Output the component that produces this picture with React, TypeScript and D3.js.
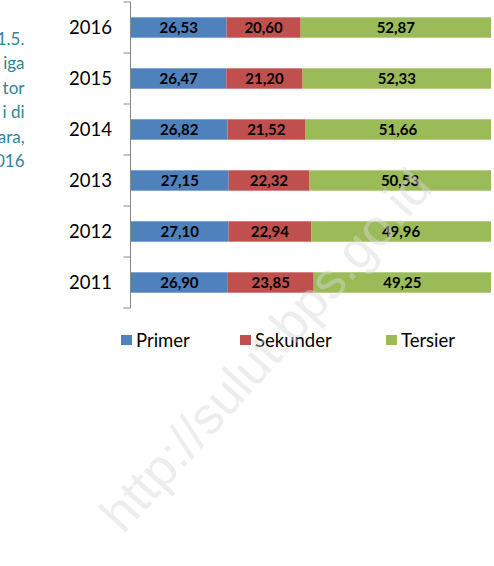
import React from 'react';
import * as d3 from 'd3';

const years = ['2011', '2012', '2013', '2014', '2015', '2016'];
const primer = [26.9, 27.1, 27.15, 26.82, 26.47, 26.53];
const sekunder = [23.85, 22.94, 22.32, 21.52, 21.2, 20.6];
const tersier = [49.25, 49.96, 50.53, 51.66, 52.33, 52.87];
const seriesNames = ['Primer', 'Sekunder', 'Tersier'];
const seriesColors = ['#4f81bd', '#c0504d', '#9bbb59'];
const sideText = ['1.5.', 'iga', 'tor', 'i di', 'ara,', '016'];
const watermark = 'http://sulut.bps.go.id';

const FONT = 'Lato, sans-serif';

export default function App() {
  const rows = years.map((yr, i) => ({
    year: yr,
    Primer: primer[i],
    Sekunder: sekunder[i],
    Tersier: tersier[i],
  }));
  const stack = d3.stack<any>().keys(seriesNames);
  const layers = stack(rows);

  const x = d3.scaleLinear().domain([0, 100]).range([131, 491]);
  const y = d3
    .scaleBand<string>()
    .domain([...years].reverse())
    .range([2, 308])
    .paddingInner(0.6)
    .paddingOuter(0.3);

  const fmt = (v: number) => d3.format('.2f')(v).replace('.', ',');
  const step = y.step();
  const bw = y.bandwidth();
  const order = [...years].reverse();
  const boundaries = order.map((d) => (y(d) as number) + bw / 2 - step / 2);
  boundaries.push(boundaries[boundaries.length - 1] + step);

  const axisX = x(0) - 0.5;
  const legendX = [121, 240, 386];

  return (
    <svg
      width={494}
      height={566}
      style={{ position: 'fixed', left: 0, top: 0, background: '#fff' }}
      fontFamily={FONT}
    >
      <rect x={0} y={0} width={494} height={566} fill="#fff" />
      {sideText.map((t, i) => (
        <text
          key={i}
          x={24.5}
          y={45 + i * 24.4}
          textAnchor="end"
          fontSize={17}
          fontWeight={400}
          fill="#31849b"
        >
          {t}
        </text>
      ))}
      {layers.map((layer, li) => (
        <g key={layer.key}>
          {layer.map((seg, i) => {
            const yr = rows[i].year;
            const x0 = x(seg[0]);
            const x1 = x(seg[1]);
            return (
              <g key={yr}>
                <rect
                  x={x0}
                  y={y(yr)}
                  width={x1 - x0}
                  height={bw}
                  fill={seriesColors[li]}
                />
                <text
                  x={(x0 + x1) / 2}
                  y={(y(yr) as number) + bw / 2}
                  dy="0.36em"
                  textAnchor="middle"
                  fontSize={15}
                  fontWeight="bold"
                  fill="#000"
                >
                  {fmt(seg[1] - seg[0])}
                </text>
              </g>
            );
          })}
        </g>
      ))}
      <line x1={axisX} x2={axisX} y1={boundaries[0]} y2={boundaries[boundaries.length - 1]} stroke="#868686" strokeWidth={1} />
      {boundaries.map((b, i) => (
        <line key={i} x1={axisX - 7} x2={axisX} y1={b} y2={b} stroke="#868686" strokeWidth={1} />
      ))}
      {order.map((d) => (
        <text
          key={d}
          x={112}
          y={(y(d) as number) + bw / 2}
          dy="0.36em"
          textAnchor="end"
          fontSize={18.5}
          fontWeight={400}
          fill="#000"
        >
          {d}
        </text>
      ))}
      {seriesNames.map((n, i) => (
        <g key={n}>
          <rect x={legendX[i]} y={335} width={11} height={10} fill={seriesColors[i]} />
          <text x={legendX[i] + 15} y={346.5} fontSize={18.5} fontWeight={400} fill="#000">
            {n}
          </text>
        </g>
      ))}
      <text
        x={279}
        y={362}
        transform="rotate(-48 279 362)"
        textAnchor="middle"
        fontSize={52}
        fontFamily="Liberation Sans, Arial, sans-serif"
        fill="#d6d6d6"
        fillOpacity={0.45}
      >
        {watermark}
      </text>
    </svg>
  );
}
